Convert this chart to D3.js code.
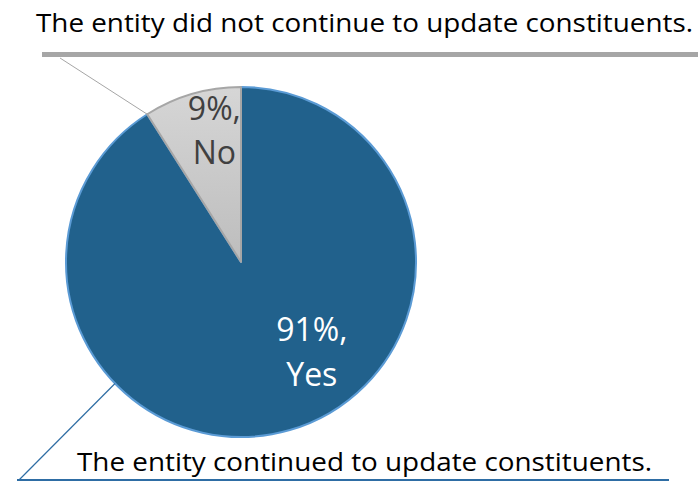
<!DOCTYPE html>
<html>
<head>
<meta charset="utf-8">
<script src="https://cdn.jsdelivr.net/npm/d3@7"></script>
<style>
    body { margin: 0; background: #fff; }
    svg { display: block; font-family: "Open Sans", "Noto Sans", sans-serif; }
</style>
</head>
<body>
<div class="chart"></div>
<script>
/*
    Chart data
*/
const categories = ["Yes", "No"];
const values = [91, 9];
const percent_labels = ["91%,", "9%,"];
const callouts = [
    "The entity continued to update constituents.",
    "The entity did not continue to update constituents."
];

/*
    Configuration variables
*/
const svg_dimensions = { width: 698, height: 483 };
const pie_center = { x: 241, y: 262 };
const radius = 175;
const colors = { Yes: "#21618c", No: "url(#gray_fill)" };
const strokes = { Yes: "#5b9bd5", No: "#a6a6a6" };
const label_colors = { Yes: "#ffffff", No: "#404040" };
// label placement: radius and angle shift (degrees) relative to slice middle
const label_place = { Yes: { r: 112, shift: -23 }, No: { r: 137, shift: 5 } };

const svg = d3.select(".chart").append("svg")
    .attr("width", svg_dimensions.width)
    .attr("height", svg_dimensions.height);

const defs = svg.append("defs");
const grad = defs.append("linearGradient")
    .attr("id", "gray_fill")
    .attr("x1", 0).attr("y1", 0).attr("x2", 0).attr("y2", 1);
grad.append("stop").attr("offset", "0%").attr("stop-color", "#d6d6d6");
grad.append("stop").attr("offset", "100%").attr("stop-color", "#bdbdbd");

const data = categories.map((c, i) => ({ category: c, value: values[i], label: percent_labels[i] }));

const pie = d3.pie().sort(null).value(d => d.value);
const arcs = pie(data);
const arc = d3.arc().innerRadius(0).outerRadius(radius);

const g = svg.append("g")
    .attr("transform", `translate(${pie_center.x},${pie_center.y})`);

/* Callout lines (drawn under the pie) */
const top_bar_y = 54.5;
svg.append("line")
    .attr("x1", 42).attr("x2", svg_dimensions.width)
    .attr("y1", top_bar_y).attr("y2", top_bar_y)
    .attr("stroke", "#a6a6a6").attr("stroke-width", 5);

const bottom_bar_y = 480;
svg.append("line")
    .attr("x1", 17).attr("x2", 669)
    .attr("y1", bottom_bar_y).attr("y2", bottom_bar_y)
    .attr("stroke", "#2e6da4").attr("stroke-width", 2);

// leader lines point at the edge of each slice
function edge_point(angle) {
    return [pie_center.x + radius * Math.sin(angle), pie_center.y - radius * Math.cos(angle)];
}
const no_arc = arcs[1];
const no_edge = edge_point(no_arc.startAngle);
svg.append("line")
    .attr("x1", 60).attr("y1", 58)
    .attr("x2", no_edge[0]).attr("y2", no_edge[1])
    .attr("stroke", "#a6a6a6").attr("stroke-width", 1);

const yes_edge = edge_point(arcs[0].startAngle + (arcs[0].endAngle - arcs[0].startAngle) * 0.69);
svg.append("line")
    .attr("x1", 19).attr("y1", bottom_bar_y)
    .attr("x2", yes_edge[0]).attr("y2", yes_edge[1])
    .attr("stroke", "#2e6da4").attr("stroke-width", 1.2);

/* Slices */
g.selectAll("path.slice")
    .data(arcs)
    .enter().append("path")
    .attr("class", "slice")
    .attr("d", arc)
    .attr("fill", d => colors[d.data.category])
    .attr("stroke", d => strokes[d.data.category])
    .attr("stroke-width", 2)
    .attr("stroke-linejoin", "round");

/* Slice labels */
const labels = g.selectAll("text.slice-label")
    .data(arcs)
    .enter().append("text")
    .attr("class", "slice-label")
    .attr("text-anchor", "middle")
    .attr("font-size", 32)
    .attr("fill", d => label_colors[d.data.category])
    .attr("transform", d => {
        const p = label_place[d.data.category];
        const a = (d.startAngle + d.endAngle) / 2 + p.shift * Math.PI / 180;
        return `translate(${p.r * Math.sin(a)},${-p.r * Math.cos(a)})`;
    });
labels.append("tspan").attr("x", 0).attr("dy", "-0.25em").text(d => d.data.label);
labels.append("tspan").attr("x", 0).attr("dy", "1.4em").text(d => d.data.category);

/* Callout texts */
svg.append("text")
    .attr("x", 36).attr("y", 32)
    .attr("font-size", 25)
    .attr("fill", "#000")
    .attr("textLength", 657)
    .attr("lengthAdjust", "spacingAndGlyphs")
    .text(callouts[1]);

svg.append("text")
    .attr("x", 77).attr("y", 471)
    .attr("font-size", 25)
    .attr("fill", "#000")
    .attr("textLength", 575)
    .attr("lengthAdjust", "spacingAndGlyphs")
    .text(callouts[0]);
</script>
</body>
</html>
